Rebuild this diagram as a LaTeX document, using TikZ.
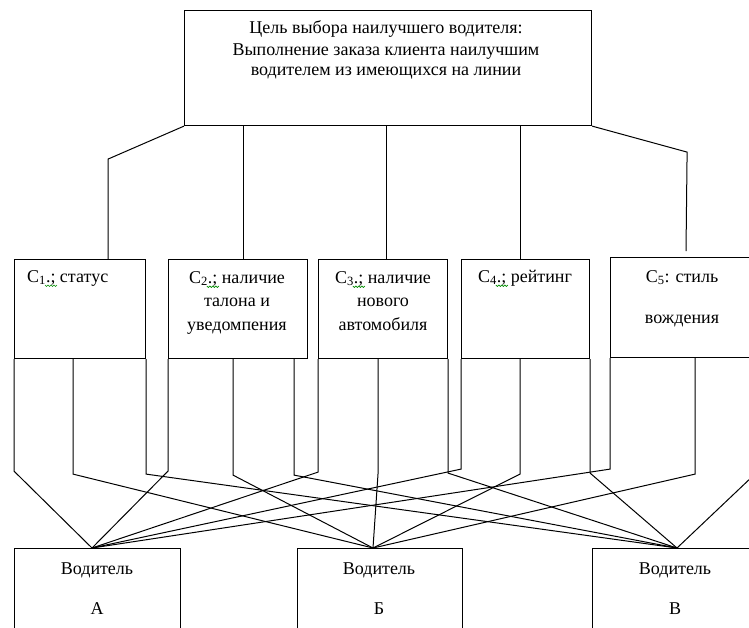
\documentclass[tikz,border=0pt]{standalone}
\usepackage{fontspec}
\setmainfont{Liberation Serif}
\usetikzlibrary{calc}
\begin{document}
\begin{tikzpicture}[x=1pt,y=-1pt,
  box/.style={draw, line width=1.1pt, rectangle, inner sep=0pt, anchor=north west},
  wire/.style={line width=1pt},
  txt/.style={inner sep=0pt, anchor=base, font=\fontsize{18}{21}\selectfont},
  squiggle/.style={draw=green!55!black, line width=0.6pt},
]
\useasboundingbox (0,0) rectangle (749,627);
\clip (0,0) rectangle (749,627);

% goal box
\node[box, minimum width=407pt, minimum height=115pt] (goal) at (184,10) {};
\node[txt] (g1) at (386,33) {Цель выбора наилучшего водителя:};
\node[txt] (g2) at (386,55) {Выполнение заказа клиента наилучшим};
\node[txt] (g3) at (386,75) {водителем из имеющихся на линии};

% criteria boxes
\node[box, minimum width=131pt, minimum height=99pt] (c1) at (14,259) {};
\node[box, minimum width=139pt, minimum height=99pt] (c2) at (168,259) {};
\node[box, minimum width=129pt, minimum height=99pt] (c3) at (318,259) {};
\node[box, minimum width=128pt, minimum height=99pt] (c4) at (461,259) {};
\node[box, minimum width=147pt, minimum height=100pt] (c5) at (610,257) {};

\node[txt, anchor=base west] (t1) at (27,282) {C\textsubscript{1}.; статус};
\node[txt] (t2a) at (237,283) {C\textsubscript{2}.; наличие};
\node[txt] (t2b) at (237,306) {талона и};
\node[txt] (t2c) at (237,330) {уведомпения};
\node[txt] (t3a) at (383,283) {C\textsubscript{3}.; наличие};
\node[txt] (t3b) at (383,306) {нового};
\node[txt] (t3c) at (383,330) {автомобиля};
\node[txt] (t4) at (525,282) {C\textsubscript{4}.; рейтинг};
\node[txt] (t5a) at (682,282) {C\textsubscript{5}: стиль};
\node[txt] (t5b) at (682,323) {вождения};

% wavy marks under the punctuation after C1..C4
\foreach \t in {t1,t2a,t3a,t4}{
  \draw[squiggle] ($(\t.base west)+(18,3)$) -- ++(1.5,1.5) -- ++(1.5,-1.5)
    -- ++(1.5,1.5) -- ++(1.5,-1.5) -- ++(1.5,1.5) -- ++(1.5,-1.5)
    -- ++(1.5,1.5) -- ++(1.5,-1.5);
}

% driver boxes
\node[box, minimum width=166pt, minimum height=100pt] (dA) at (14,548) {};
\node[box, minimum width=165pt, minimum height=100pt] (dB) at (297,548) {};
\node[box, minimum width=166pt, minimum height=100pt] (dV) at (592,548) {};

\node[txt] (a1) at (97,574) {Водитель};
\node[txt] (a2) at (97,614) {А};
\node[txt] (b1) at (379,574) {Водитель};
\node[txt] (b2) at (379,614) {Б};
\node[txt] (v1) at (675,574) {Водитель};
\node[txt] (v2) at (675,614) {В};

% meeting points on the driver boxes
\coordinate (pA) at ($(dA.north west)+(78,0)$);
\coordinate (pB) at ($(dB.north west)+(76,0)$);
\coordinate (pV) at ($(dV.north west)+(85,0)$);

% goal to criteria
\draw[wire] (goal.south west) -- ++(-76,33) -- ($(c1.north west)+(94,0)$);
\draw[wire] ($(c2.north west)+(75,0)$) coordinate (u2) -- (u2 |- goal.south);
\draw[wire] ($(c3.north west)+(68,0)$) coordinate (u3) -- (u3 |- goal.south);
\draw[wire] ($(c4.north west)+(59,0)$) coordinate (u4) -- (u4 |- goal.south);
\draw[wire] (goal.south east) -- ++(95,26) -- ($(c5.north west)+(76,-6)$);

% criteria to drivers
\draw[wire] (c1.south west) -- ++(0,112) -- (pA);
\draw[wire] ($(c1.south west)+(59,0)$) -- ++(0,115) -- (pB);
\draw[wire] (c1.south east) -- ++(0,115) -- (pV);

\draw[wire] (c2.south west) -- ++(0,112) -- (pA);
\draw[wire] ($(c2.south west)+(65,0)$) -- ++(0,116) -- (pB);
\draw[wire] ($(c2.south west)+(126,0)$) -- ++(0,116) -- (pV);

\draw[wire] (c3.south west) -- ++(0,113) -- (pA);
\draw[wire] ($(c3.south west)+(60,0)$) -- ++(0,115) -- (pB);
\draw[wire] (c3.south east) -- ++(0,114) -- (pV);

\draw[wire] (c4.south west) -- ++(0,110) -- (pA);
\draw[wire] ($(c4.south west)+(59,0)$) -- ++(0,115) -- (pB);
\draw[wire] (c4.south east) -- ++(0,114) -- (pV);

\draw[wire] (c5.south west) -- ++(0,111) -- (pA);
\draw[wire] ($(c5.south west)+(85,0)$) -- ++(0,116) -- (pB);
\draw[wire] (c5.south east) -- ++(0,113) -- (pV);
\end{tikzpicture}
\end{document}
